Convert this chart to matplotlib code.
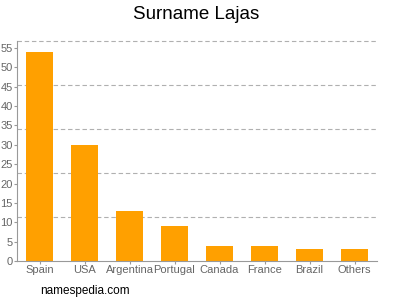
import numpy as np
import matplotlib.pyplot as plt

countries = ['Spain', 'USA', 'Argentina', 'Portugal', 'Canada', 'France', 'Brazil', 'Others']
counts = [54, 30, 13, 9, 4, 4, 3, 3]
yticks = list(range(0, 56, 5))

plt.rcParams['font.family'] = ['Liberation Sans', 'DejaVu Sans']

ymax = 56.8
fig = plt.figure(figsize=(4, 3), dpi=100)
ax = fig.add_axes([0.0425, 0.13, 0.9, 0.733])

x = np.arange(len(countries))
ax.bar(x, counts, width=0.6, color='#ffa000', zorder=2)

ax.set_xlim(-0.5, len(countries) - 0.5)
ax.set_ylim(0, ymax)
ax.set_xticks(x)
ax.set_xticklabels(countries)
ax.set_yticks(yticks)

# dashed grid at fifths of the axis height
for g in np.linspace(ymax / 5, ymax, 5):
    ax.axhline(g, color='#b0b0b0', linestyle=(0, (4, 2.5)), linewidth=0.8, zorder=1, clip_on=False)

for s in ['top', 'right']:
    ax.spines[s].set_visible(False)
for s in ['left', 'bottom']:
    ax.spines[s].set_color('#999999')
ax.tick_params(colors='#999999', labelcolor='#666666', labelsize=8, length=2.5, pad=0.5)

fig.text(0.49, 0.953, 'Surname Lajas', ha='center', va='center', fontsize=13.5)
fig.text(0.1, 0.03, 'namespedia.com', ha='left', va='center', fontsize=8.5)

fig.savefig('out.png')
